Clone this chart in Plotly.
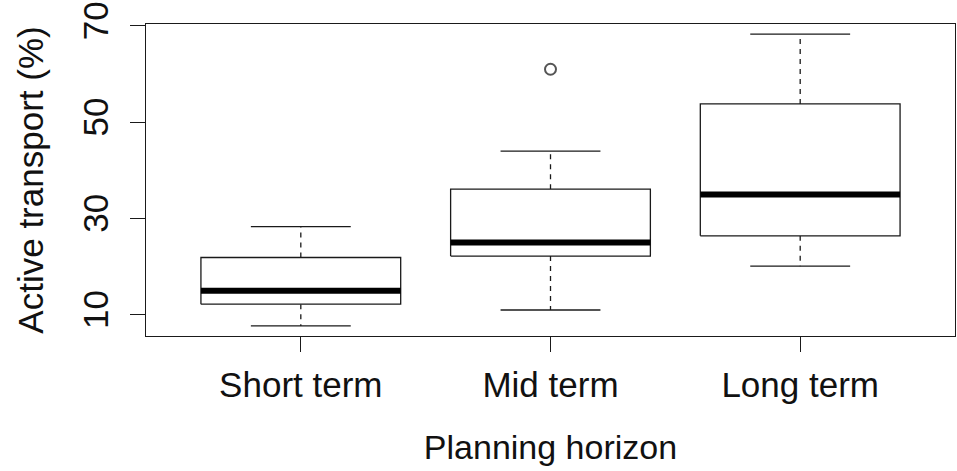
import plotly.graph_objects as go

categories = ["Short term", "Mid term", "Long term"]
lower_whisker = [7.7, 11.0, 20.1]
q1 = [12.2, 22.2, 26.4]
median = [15.0, 25.0, 35.0]
q3 = [21.9, 36.1, 53.8]
upper_whisker = [28.3, 44.0, 68.3]
outlier_category = ["Mid term"]
outlier_values = [61.0]

y_ticks = [10, 30, 50, 70]

BOX_HALF = 0.4
CAP_HALF = 0.2
LINE = "#1a1a1a"
FONT = "Liberation Sans, Arial, sans-serif"

pos = {c: i + 1 for i, c in enumerate(categories)}

wx, wy, cx, cy, bx, by, mx, my = [], [], [], [], [], [], [], []
for c, lo, a, m, b, hi in zip(categories, lower_whisker, q1, median, q3, upper_whisker):
    p = pos[c]
    wx += [p, p, None, p, p, None]
    wy += [b, hi, None, a, lo, None]
    cx += [p - CAP_HALF, p + CAP_HALF, None, p - CAP_HALF, p + CAP_HALF, None]
    cy += [hi, hi, None, lo, lo, None]
    bx += [p - BOX_HALF, p + BOX_HALF, p + BOX_HALF, p - BOX_HALF, p - BOX_HALF, None]
    by += [a, a, b, b, a, None]
    mx += [p - BOX_HALF, p + BOX_HALF, None]
    my += [m, m, None]

fig = go.Figure()
fig.add_trace(go.Scatter(x=wx, y=wy, mode="lines", line=dict(color=LINE, width=1.3, dash="5px,5px"),
                         hoverinfo="skip", showlegend=False))
fig.add_trace(go.Scatter(x=cx, y=cy, mode="lines", line=dict(color=LINE, width=1.3),
                         hoverinfo="skip", showlegend=False))
fig.add_trace(go.Scatter(x=bx, y=by, mode="lines", line=dict(color=LINE, width=1.3),
                         fill="toself", fillcolor="white", hoverinfo="skip", showlegend=False))
fig.add_trace(go.Scatter(x=mx, y=my, mode="lines", line=dict(color="black", width=6),
                         hoverinfo="skip", showlegend=False))
fig.add_trace(go.Scatter(x=[pos[c] for c in outlier_category], y=outlier_values, mode="markers",
                         marker=dict(symbol="circle-open", size=11, color="#555555", line=dict(width=2)),
                         hoverinfo="skip", showlegend=False))

fig.update_layout(
    width=957, height=471,
    margin=dict(l=146, r=2, t=24, b=135),
    paper_bgcolor="white", plot_bgcolor="white",
    font=dict(family=FONT, size=35, color="#111111"),
    xaxis=dict(
        range=[0.38, 3.62], tickmode="array", tickvals=[1, 2, 3], ticktext=categories,
        ticks="outside", ticklen=15, tickwidth=1.3, tickcolor=LINE,
        showline=True, mirror=True, linecolor=LINE, linewidth=1.3,
        showgrid=False, zeroline=False, ticklabelstandoff=3, automargin=False,
        tickfont=dict(family=FONT, size=35, color="#111111"),
        title=dict(text="Planning horizon", standoff=32, font=dict(family=FONT, size=34, color="#111111")),
    ),
    yaxis=dict(
        range=[5.6, 70.4], tickmode="array", tickvals=y_ticks, ticktext=[str(v) for v in y_ticks],
        ticks="outside", ticklen=15, tickwidth=1.3, tickcolor=LINE,
        showline=True, mirror=True, linecolor=LINE, linewidth=1.3,
        showgrid=False, zeroline=False, tickangle=-90, ticklabelstandoff=8, automargin=False,
        tickfont=dict(family=FONT, size=35, color="#111111"),
        title=dict(text="Active transport (%)", standoff=21, font=dict(family=FONT, size=35, color="#111111")),
    ),
)

fig.write_html("out.html", config={"displayModeBar": False},
               post_script="document.body.style.margin='0';document.body.style.padding='0';")
